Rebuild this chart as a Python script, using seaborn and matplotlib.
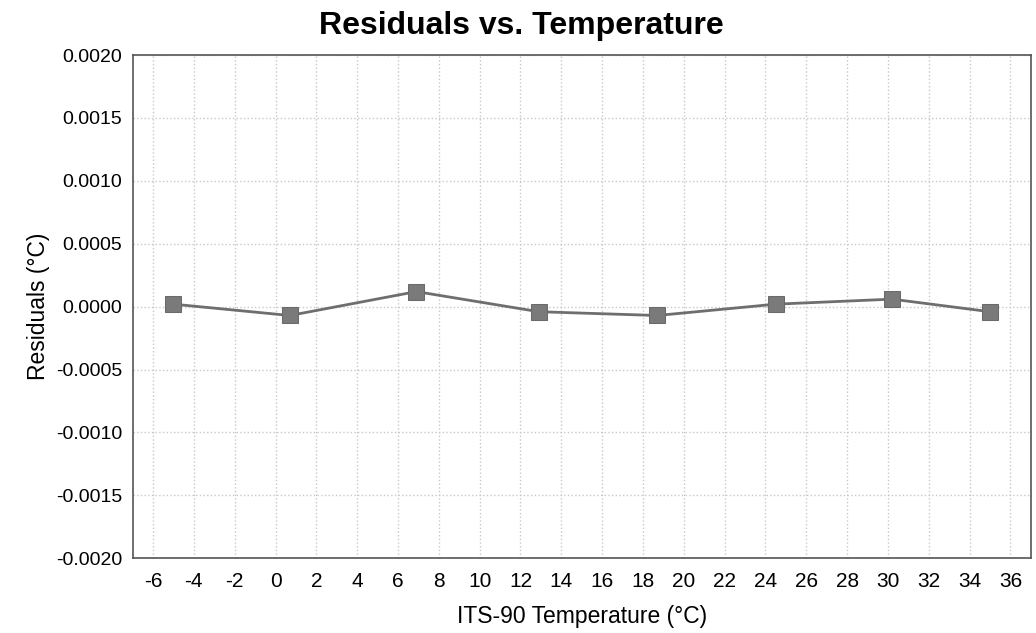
import matplotlib
matplotlib.use("Agg")
import matplotlib.pyplot as plt
import numpy as np
import pandas as pd
import seaborn as sns

# data
temperature = [-5.0, 0.7, 6.9, 12.9, 18.7, 24.5, 30.2, 35.0]
residuals = [0.00002, -0.00007, 0.00012, -0.00004, -0.00007, 0.00002, 0.00006, -0.00004]
x_ticks = list(range(-6, 37, 2))
y_ticks = [-0.0020, -0.0015, -0.0010, -0.0005, 0.0000, 0.0005, 0.0010, 0.0015, 0.0020]

df = pd.DataFrame({"ITS-90 Temperature (°C)": temperature, "Residuals (°C)": residuals})

sns.set_style("white")
plt.rcParams['font.family'] = ['Liberation Sans', 'DejaVu Sans']
plt.rcParams['axes.unicode_minus'] = False
plt.rcParams['text.color'] = 'black'
plt.rcParams['axes.labelcolor'] = 'black'
plt.rcParams['xtick.color'] = 'black'
plt.rcParams['ytick.color'] = 'black'

fig, ax = plt.subplots(figsize=(10.36, 6.33), dpi=100)
fig.subplots_adjust(left=0.128, right=0.995, top=0.913, bottom=0.118)

sns.lineplot(data=df, x="ITS-90 Temperature (°C)", y="Residuals (°C)", ax=ax,
             color="#6e6e6e", linewidth=2, marker="s", markersize=12,
             markerfacecolor="#7a7a7a", markeredgecolor="#6a6a6a")

ax.set_xlim(-7, 37)
ax.set_ylim(-0.002, 0.002)
ax.set_xticks(x_ticks)
ax.set_yticks(y_ticks)
ax.set_yticklabels([f"{v:.4f}" for v in y_ticks])
ax.tick_params(axis="both", direction="out", length=4, width=1, color="#444444")
ax.tick_params(axis="y", labelsize=14)
ax.tick_params(axis="x", labelsize=15, pad=6)

ax.grid(True, linestyle=":", color="#c8c8c8", linewidth=1)
for s in ax.spines.values():
    s.set_color("#555555")
    s.set_linewidth(1.2)

ax.set_xlabel("ITS-90 Temperature (°C)", fontsize=16.5, labelpad=10)
ax.set_ylabel("Residuals (°C)", fontsize=16.5, labelpad=4)
fig.suptitle("Residuals vs. Temperature", fontsize=23, fontweight="bold", x=0.503, y=0.983)

plt.savefig("out.png", dpi=100)
